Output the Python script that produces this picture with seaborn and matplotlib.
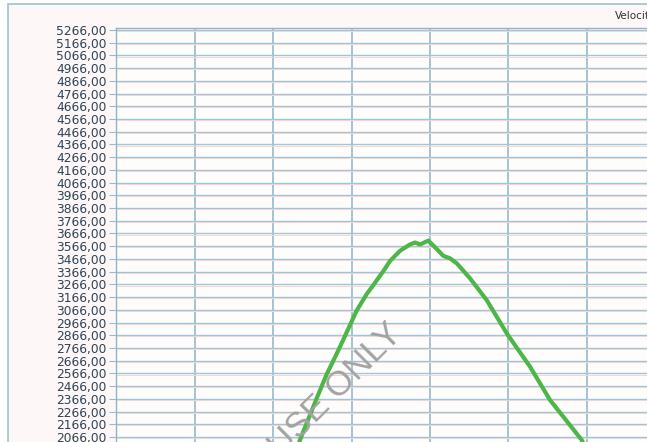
import matplotlib
matplotlib.use("Agg")
import matplotlib.pyplot as plt
import numpy as np
import pandas as pd
import seaborn as sns
from matplotlib.patches import Rectangle

# Curve (x in grid-column units, y = velocity)
x_pos = [2.31, 2.343, 2.445, 2.556, 2.684, 2.811, 2.917, 3.066, 3.194, 3.278,
         3.406, 3.491, 3.619, 3.746, 3.810, 3.874, 3.980, 4.078, 4.171, 4.256,
         4.342, 4.511, 4.724, 4.980, 5.277, 5.532, 5.936, 5.98]
velocity = [1985, 2043, 2200, 2370, 2560, 2720, 2860, 3060, 3190, 3260,
            3370, 3450, 3530, 3580, 3595, 3580, 3610, 3550, 3490, 3471,
            3432, 3314, 3143, 2881, 2619, 2357, 2043, 1985]

y_ticks = list(range(2066, 5267, 100))
y_labels = [f"{v},00" for v in y_ticks]
x_ticks = [0, 1, 2, 3, 4, 5, 6, 7]

df = pd.DataFrame({"x": x_pos, "velocity": velocity})

sns.set_style("white")
plt.rcParams["font.family"] = ["DejaVu Sans"]

W, H = 647, 442
fig = plt.figure(figsize=(W / 100, H / 100), dpi=100)
fig.patch.set_facecolor("white")

# outer panel with light blue frame
fig.patches.append(Rectangle((7.5 / W, -0.1), 1.0, 1 - 4.5 / H + 0.1,
                             transform=fig.transFigure, facecolor="#FDF8F7",
                             edgecolor="#A6C6D4", lw=1.3, zorder=-10))

left = 116.3
ax = fig.add_axes([left / W, 0, 560 / W, (H - 28) / H])
ax.set_zorder(1)
ax.set_facecolor("#FFFDFC")

sns.lineplot(data=df, x="x", y="velocity", ax=ax, color="#4CB649",
             linewidth=3.0, zorder=5)

ax.set_xlim(0, 560 / 78.4)
ax.set_ylim(2026.7, 5281.7)
ax.set_yticks(y_ticks)
ax.set_yticklabels(y_labels)
ax.set_xticks(x_ticks)
ax.set_xticklabels([])
# faint pinkish companion lines seen next to the grid
ax.set_yticks([v - 9 for v in y_ticks], minor=True)
ax.grid(True, which="major", axis="y", color="#9EC6DA", linewidth=1.0)
ax.grid(True, which="major", axis="x", color="#8DB3C4", linewidth=1.1)
ax.grid(True, which="minor", axis="y", color="#F4D6D0", linewidth=0.7)
ax.tick_params(axis="y", which="major", length=5, width=0.8, color="#9DB9C6",
               pad=2, labelsize=8.8, labelcolor="#2F4356", left=True)
ax.tick_params(axis="y", which="minor", length=0)
ax.tick_params(axis="x", length=0)
ax.set_xlabel("")
ax.set_ylabel("")
for side in ["left", "top"]:
    ax.spines[side].set_color("#8FB6C8")
    ax.spines[side].set_linewidth(1.0)
for side in ["right", "bottom"]:
    ax.spines[side].set_visible(False)

fig.text(615 / W, 1 - 16 / H, "Velocity", fontsize=7.5, color="#333333",
         ha="left", va="center")

# watermark
fig.text(336 / W, 1 - 390 / H, "USE ONLY", fontsize=25, color="#A3A3A3",
         family=["Liberation Sans", "DejaVu Sans"], rotation=45,
         rotation_mode="anchor", ha="center", va="center", zorder=10)

fig.savefig("out.png", dpi=100)
